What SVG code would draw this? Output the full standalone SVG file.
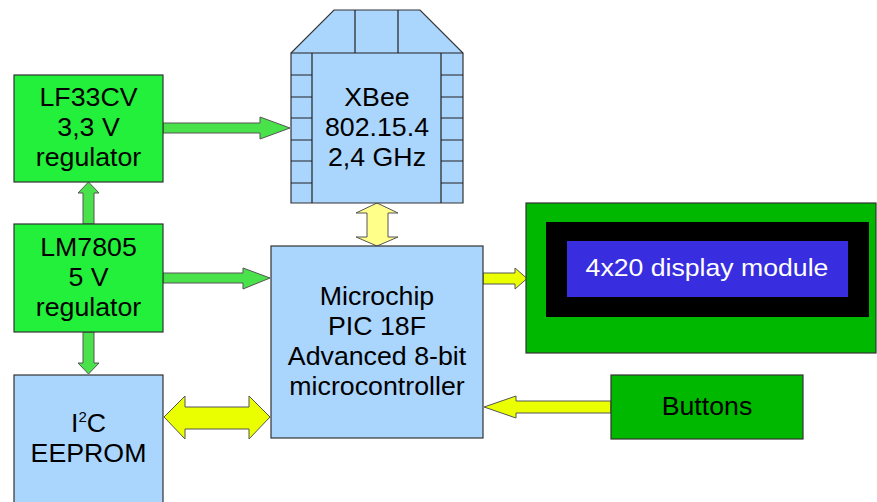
<svg xmlns="http://www.w3.org/2000/svg" width="877" height="502" viewBox="0 0 877 502">
<style>
.box{stroke:#333;stroke-width:1.2}
.blue{fill:#aad5fd}
.green{fill:#22f03a}
.dgreen{fill:#00b800}
.t{font-family:"Liberation Sans",Arial,sans-serif;font-size:25px;text-anchor:middle;fill:#000}
.w{fill:#fff}
.arrG{fill:#4ae24a;stroke:#555;stroke-width:1}
.arrY{fill:#eaff00;stroke:#555;stroke-width:1}
.arrP{fill:#ffff8a;stroke:#555;stroke-width:1}
.ln{stroke:#222;stroke-width:1.2;fill:none}
</style>
<rect width="877" height="502" fill="#fff"/>
<g id="connectors">
<polygon class="arrG" points="163,123 260,123 260,117 290,128 260,139 260,133 163,133"/>
<polygon class="arrG" points="83,224 83,193 78,193 88.5,182 99,193 94,193 94,224"/>
<polygon class="arrG" points="83,332 83,363 78,363 88.5,374 99,363 94,363 94,332"/>
<polygon class="arrG" points="163,273 243,273 243,268 270,278 243,289 243,283 163,283"/>
<polygon class="arrP" points="377,203 398,213 388,213 388,237 398,237 377,246 356,237 367,237 367,213 356,213"/>
<polygon class="arrY" points="483,273 515,273 515,268 527,278.5 515,289 515,284 483,284"/>
<polygon class="arrY" points="611,401 516,401 516,396 484,407 516,418 516,413 611,413"/>
<polygon class="arrY" points="164,417 185,396 185,407 249,407 249,396 270,417 249,439 249,429 185,429 185,439"/>
</g>
<g id="xbee">
<polygon class="box blue" points="334,10 420,10 463,53 463,203 291,203 291,53"/>
<path class="ln" d="M291,53H463M355,10V53M398,10V53M312,53V203M441,53V203M291,75H312M291,97H312M291,118H312M291,140H312M291,161H312M291,183H312M441,75H463M441,97H463M441,118H463M441,140H463M441,161H463M441,183H463"/>
<g transform="translate(377,0) scale(1.07,1)">
<text class="t" x="0" y="106">XBee</text>
<text class="t" x="0" y="136">802.15.4</text>
<text class="t" x="0" y="166">2,4 GHz</text>
</g>
</g>
<g id="lf33cv">
<rect class="box green" x="14" y="75" width="149" height="107"/>
<g transform="translate(88.5,0) scale(1.07,1)">
<text class="t" x="0" y="106">LF33CV</text>
<text class="t" x="0" y="136">3,3 V</text>
<text class="t" x="0" y="166">regulator</text>
</g>
</g>
<g id="lm7805">
<rect class="box green" x="14" y="224" width="149" height="108"/>
<g transform="translate(88.5,0) scale(1.07,1)">
<text class="t" x="0" y="256">LM7805</text>
<text class="t" x="0" y="286">5 V</text>
<text class="t" x="0" y="316">regulator</text>
</g>
</g>
<g id="eeprom">
<rect class="box blue" x="14" y="375" width="149" height="140"/>
<g transform="translate(88.5,0) scale(1.07,1)">
<text class="t" x="0" y="432">I<tspan font-size="14" dy="-10">2</tspan><tspan dy="10">C</tspan></text>
<text class="t" x="0" y="462">EEPROM</text>
</g>
</g>
<g id="microchip">
<rect class="box blue" x="271" y="246" width="212" height="192"/>
<g transform="translate(377,0) scale(1.07,1)">
<text class="t" x="0" y="305">Microchip</text>
<text class="t" x="0" y="335">PIC 18F</text>
<text class="t" x="0" y="365">Advanced 8-bit</text>
<text class="t" x="0" y="395">microcontroller</text>
</g>
</g>
<g id="display">
<rect class="box dgreen" x="526" y="203" width="350" height="150"/>
<rect x="546" y="222" width="323" height="95" fill="#000"/>
<rect x="567" y="241" width="281" height="56" fill="#382ddf"/>
<g transform="translate(707,0) scale(1.11,1)">
<text class="t w" x="0" y="276" style="font-size:24px">4x20 display module</text>
</g>
</g>
<g id="buttons">
<rect class="box dgreen" x="611" y="375" width="192" height="64"/>
<g transform="translate(707,0) scale(1.07,1)">
<text class="t" x="0" y="415">Buttons</text>
</g>
</g>
</svg>
